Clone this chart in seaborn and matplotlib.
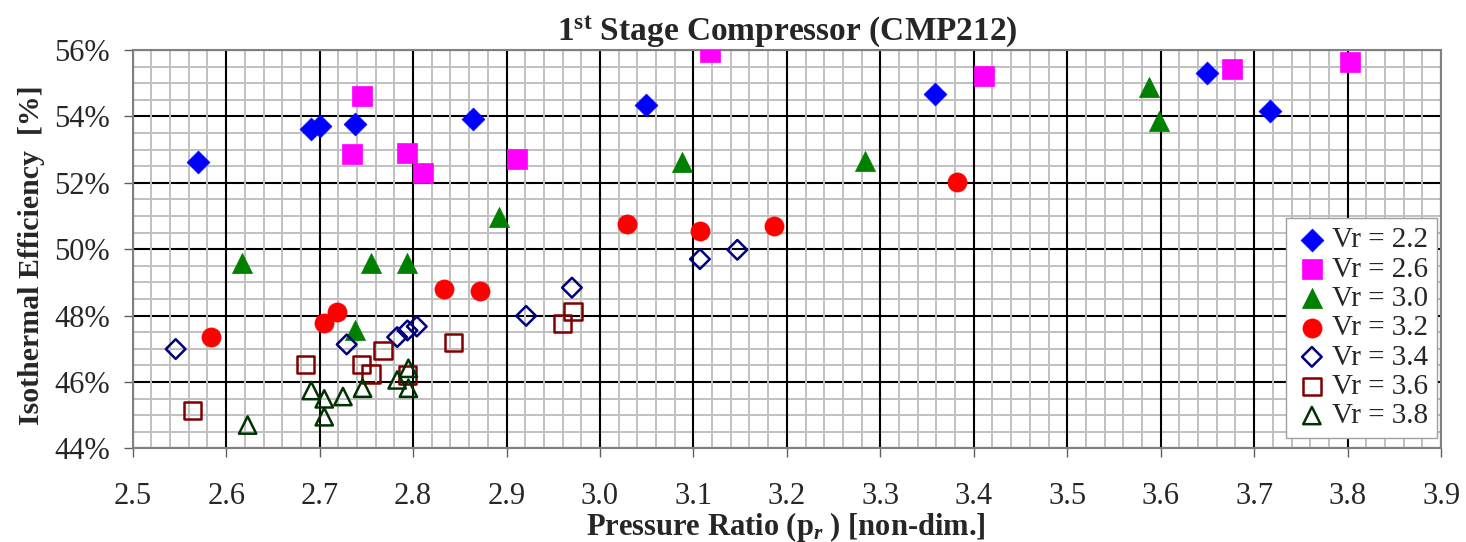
import numpy as np
import pandas as pd
import matplotlib
matplotlib.use("Agg")
import matplotlib.pyplot as plt
import seaborn as sns
from matplotlib.ticker import MultipleLocator, PercentFormatter, FormatStrFormatter

# ---------------- data ----------------
labels = ["Vr = 2.2", "Vr = 2.6", "Vr = 3.0", "Vr = 3.2", "Vr = 3.4", "Vr = 3.6", "Vr = 3.8"]

pr_22 = [2.570, 2.691, 2.700, 2.738, 2.864, 3.049, 3.359, 3.650, 3.717]
eff_22 = [52.64, 53.61, 53.71, 53.76, 53.91, 54.33, 54.67, 55.30, 54.16]

pr_26 = [2.745, 2.735, 2.794, 2.811, 2.911, 3.118, 3.411, 3.676, 3.803]
eff_26 = [54.61, 52.87, 52.91, 52.30, 52.72, 55.94, 55.23, 55.43, 55.63]

pr_30 = [2.617, 2.738, 2.755, 2.794, 2.892, 3.088, 3.284, 3.588, 3.598]
eff_30 = [49.59, 47.55, 49.59, 49.57, 50.96, 52.64, 52.66, 54.88, 53.87]

pr_32 = [2.584, 2.705, 2.719, 2.833, 2.872, 3.029, 3.107, 3.186, 3.382]
eff_32 = [47.35, 47.77, 48.12, 48.79, 48.74, 50.77, 50.56, 50.71, 52.03]

pr_34 = [2.546, 2.729, 2.783, 2.794, 2.804, 2.921, 2.970, 3.107, 3.147]
eff_34 = [46.99, 47.13, 47.35, 47.55, 47.67, 47.99, 48.84, 49.70, 49.98]

pr_36 = [2.564, 2.685, 2.745, 2.755, 2.768, 2.794, 2.843, 2.960, 2.971]
eff_36 = [45.14, 46.53, 46.53, 46.24, 46.94, 46.21, 47.18, 47.77, 48.13]

pr_38 = [2.623, 2.691, 2.705, 2.705, 2.725, 2.746, 2.783, 2.795, 2.795]
eff_38 = [44.70, 45.74, 45.49, 44.95, 45.56, 45.81, 46.06, 46.41, 45.81]

x_ticks = [2.5, 2.6, 2.7, 2.8, 2.9, 3.0, 3.1, 3.2, 3.3, 3.4, 3.5, 3.6, 3.7, 3.8, 3.9]
y_ticks = [44, 46, 48, 50, 52, 54, 56]

series_x = [pr_22, pr_26, pr_30, pr_32, pr_34, pr_36, pr_38]
series_y = [eff_22, eff_26, eff_30, eff_32, eff_34, eff_36, eff_38]

# ---------------- style ----------------
styles = [
    dict(marker="D", color="#0000FF", filled=True, s=135),
    dict(marker="s", color="#FF00FF", filled=True, s=200),
    dict(marker="^", color="#008000", filled=True, s=210),
    dict(marker="o", color="#FF0000", filled=True, s=190),
    dict(marker="D", color="#000080", filled=False, s=100),
    dict(marker="s", color="#800000", filled=False, s=155),
    dict(marker="^", color="#003300", filled=False, s=155),
]

sns.set_theme(style="white")
plt.rcParams["font.family"] = ["Liberation Serif", "DejaVu Serif"]
plt.rcParams["mathtext.fontset"] = "custom"
plt.rcParams["mathtext.rm"] = "Liberation Serif:bold"
plt.rcParams["mathtext.bf"] = "Liberation Serif:bold"
plt.rcParams["mathtext.it"] = "Liberation Serif:italic:bold"

fig = plt.figure(figsize=(14.66, 5.42), dpi=100)
ax = fig.add_axes([0.0905, 0.1729, 0.8925, 0.7348])

for xs, ys, lab, st in zip(series_x, series_y, labels, styles):
    df = pd.DataFrame({"pr": xs, "eff": ys})
    if st["filled"]:
        sns.scatterplot(data=df, x="pr", y="eff", ax=ax, marker=st["marker"],
                        color=st["color"], edgecolor=st["color"], linewidth=0.5,
                        s=st["s"], label=lab, zorder=5)
    else:
        sns.scatterplot(data=df, x="pr", y="eff", ax=ax, marker=st["marker"],
                        color=st["color"], facecolor="none", edgecolor=st["color"],
                        linewidth=1.8, s=st["s"], label=lab, zorder=5)

ax.set_xlim(x_ticks[0], x_ticks[-1])
ax.set_ylim(y_ticks[0], y_ticks[-1])
ax.set_xticks(x_ticks)
ax.set_yticks(y_ticks)
ax.xaxis.set_minor_locator(MultipleLocator(0.02))
ax.yaxis.set_minor_locator(MultipleLocator(0.5))
ax.xaxis.set_major_formatter(FormatStrFormatter("%.1f"))
ax.yaxis.set_major_formatter(PercentFormatter(xmax=100, decimals=0))

ax.grid(which="minor", color="#C0C0C0", linewidth=1.4)
ax.grid(which="major", color="black", linewidth=1.5)
ax.yaxis.set_zorder(0.4)
ax.xaxis.set_zorder(0.5)

ax.tick_params(axis="x", which="major", direction="out", length=6.5, width=1.0,
               color="#606060", labelsize=22, pad=18, bottom=True)
ax.tick_params(axis="y", which="major", direction="out", length=6.5, width=1.0,
               color="#606060", labelsize=22, pad=10, left=True)
ax.tick_params(which="minor", length=0)

for sp in ax.spines.values():
    sp.set_color("#808080")
    sp.set_linewidth(1.5)

ax.set_xlabel(r"Pressure Ratio (p$_{\mathit{r}}$ ) [non-dim.]", fontsize=22,
              fontweight="bold")
ax.xaxis.set_label_coords(0.499, -0.155)
ax.set_ylabel("Isothermal Efficiency  [%]", fontsize=21.5, fontweight="bold")
ax.yaxis.set_label_coords(-0.067, 0.486)
ax.set_title(r"1$^{\mathbf{st}}$ Stage Compressor (CMP212)", fontsize=24,
             fontweight="bold", pad=7.5)

leg = ax.legend(loc="lower right", bbox_to_anchor=(0.997, 0.026), fontsize=21,
                frameon=True, fancybox=False, framealpha=1, edgecolor="#A0A0A0",
                borderpad=0.3, labelspacing=0.1, handletextpad=0.1,
                handlelength=1.2, borderaxespad=0)
leg.get_frame().set_linewidth(1.0)
leg.set_zorder(10)

fig.savefig("out.png", dpi=100)
